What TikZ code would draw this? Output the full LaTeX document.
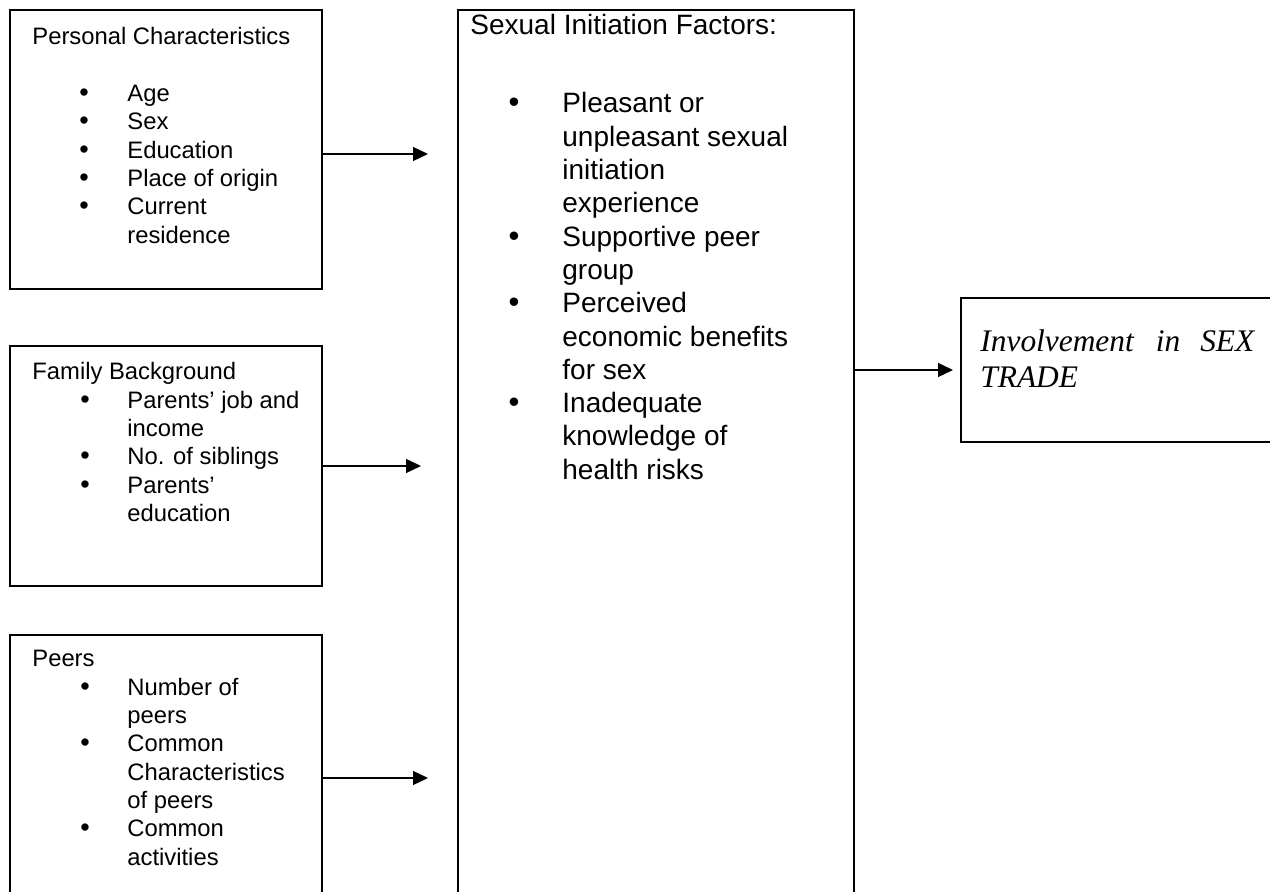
\documentclass[tikz,border=0pt]{standalone}
\usepackage{fontspec}
\setmainfont{Liberation Sans}
\newfontfamily\timesf{Liberation Serif}
\usetikzlibrary{arrows.meta}
\begin{document}
\begin{tikzpicture}[x=0.5pt,y=-0.5pt,
  box/.style={draw, line width=0.65pt, inner sep=0, outer sep=0, anchor=north west},
  sm/.style={font=\fontsize{11.9}{14}\selectfont, inner sep=0, anchor=base west},
  lg/.style={font=\fontsize{14}{16.5}\selectfont, inner sep=0, anchor=base west},
  smbul/.style={font=\fontsize{13.5}{14}\selectfont, inner sep=0, anchor=base},
  lgbul/.style={font=\fontsize{15.5}{16.5}\selectfont, inner sep=0, anchor=base},
  it/.style={font=\timesf\itshape\fontsize{15.7}{18}\selectfont, inner sep=0, anchor=base west},
  arr/.style={-{Triangle[length=7.5pt,width=7pt]}, line width=0.65pt}]
\useasboundingbox (0,0) rectangle (1270,892);
\clip (0,0) rectangle (1270,892);
% boxes
\node[box, minimum width=156pt, minimum height=139.5pt] (pc) at (10,10) {};
\node[box, minimum width=156pt, minimum height=120pt] (fb) at (10,346) {};
\node[box, minimum width=156pt, minimum height=132.5pt] (pe) at (10,635) {};
\node[box, minimum width=198pt, minimum height=445pt] (sf) at (458,10) {};
\node[box, minimum width=164.5pt, minimum height=72pt] (in) at (961,298) {};
% titles
\node[sm] (pct) at (32,45) {Personal Characteristics};
\node[sm] (fbt) at (32,380) {Family Background};
\node[sm] (pet) at (32,667) {Peers};
\node[lg] (sft) at (470,35) {Sexual Initiation Factors:};
% box 1 items
\foreach \t [count=\i] in {Age,Sex,Education,Place of origin,Current,residence}
  \node[sm, name=pcl\i] at (127,{101.7+(\i-1)*28.3}) {\t};
\foreach \i in {1,...,5}
  \node[smbul, name=pcb\i] at (84,{101.7+(\i-1)*28.3}) {•};
% box 2 items
\foreach \t [count=\i] in {Parents’ job and,income,No. of siblings,Parents’,education}
  \node[sm, name=fbl\i] at (127,{408.3+(\i-1)*28.3}) {\t};
\foreach \i in {1,3,4}
  \node[smbul, name=fbb\i] at (85,{408.3+(\i-1)*28.3}) {•};
% box 3 items
\foreach \t [count=\i] in {Number of,peers,Common,Characteristics,of peers,Common,activities}
  \node[sm, name=pel\i] at (127,{695.3+(\i-1)*28.3}) {\t};
\foreach \i in {1,3,6}
  \node[smbul, name=peb\i] at (85,{695.3+(\i-1)*28.3}) {•};
% middle items
\foreach \t [count=\i] in {Pleasant or,unpleasant sexual,initiation,experience,Supportive peer,group,Perceived,economic benefits,for sex,Inadequate,knowledge of,health risks}
  \node[lg, name=sfl\i] at (562,{113+(\i-1)*33.3}) {\t};
\foreach \i in {1,5,7,10}
  \node[lgbul, name=sfb\i] at (514,{113+(\i-1)*33.3}) {•};
% outcome text
\node[it] (inv1) at (980,352) {Involvement\hspace{11pt}in\hspace{10pt}SEX};
\node[it] (inv2) at (980,388) {TRADE};
% arrows
\coordinate (t1) at (428,154);
\coordinate (t2) at (421,466);
\coordinate (t3) at (428,778);
\coordinate (t4) at (953,370);
\draw[arr] (pc.east |- t1) -- (t1);
\draw[arr] (fb.east |- t2) -- (t2);
\draw[arr] (pe.east |- t3) -- (t3);
\draw[arr] (sf.east |- t4) -- (t4);
\end{tikzpicture}
\end{document}
